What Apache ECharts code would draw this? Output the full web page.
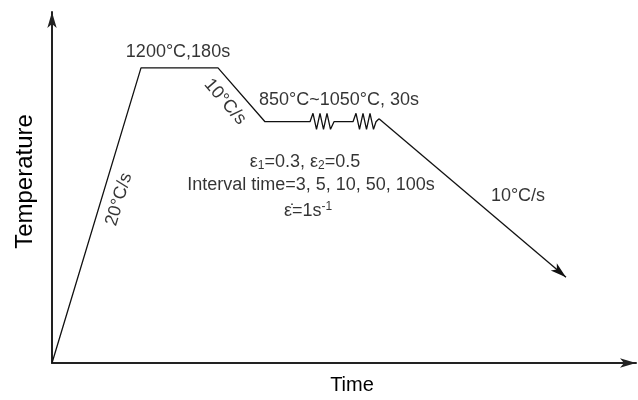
<!DOCTYPE html>
<html>
<head>
<meta charset="utf-8">
<script src="https://cdn.jsdelivr.net/npm/echarts@6/dist/echarts.min.js"></script>
<style>
  html, body { margin: 0; padding: 0; background: #fff; }
  #main { width: 638px; height: 400px; }
</style>
</head>
<body>
<div id="main"></div>
<script>
// schematic thermal path: time (arbitrary units) vs temperature
var pathTime = [0, 89, 166, 213, 258, 261, 264.5, 268, 271.5, 275, 278.5, 282, 301, 304, 307.5, 311, 314.5, 318, 321.5, 324, 327];
var pathTemp = [0, 1200, 1200, 981, 981, 1015, 950, 1015, 950, 1015, 950, 981, 981, 1015, 950, 1015, 950, 1015, 950, 981, 993];
// final cooling segment, drawn with an arrow
var coolTime = [327, 514];
var coolTemp = [993, 349];

// annotation texts and where they sit (time, temperature)
var noteText = [
  '1200°C,180s',
  '10°C/s',
  '850°C~1050°C, 30s',
  '{t|ε}{sub|1}{t|=0.3, ε}{sub|2}{t|=0.5}',
  'Interval time=3, 5, 10, 50, 100s',
  '{t|ε̇=1s}{sup|-1}',
  '10°C/s',
  '20°C/s'
];
var noteTime = [126, 173, 287, 253, 259, 256, 466, 67];
var noteTemp = [1265, 1062, 1070, 819, 722, 616, 677, 665];
var noteRotate = [0, -49, 0, 0, 0, 0, 0, 73];

var FONT = '"Liberation Sans", Arial, sans-serif';

var chart = echarts.init(document.getElementById('main'));

var pathData = pathTime.map(function (t, i) { return [t, pathTemp[i]]; });
var noteData = noteText.map(function (s, i) {
  return {
    value: [noteTime[i], noteTemp[i]],
    label: { formatter: s, rotate: noteRotate[i] }
  };
});

var option = {
  animation: false,
  backgroundColor: '#fff',
  grid: { left: 52, right: 2, top: 12, bottom: 36 },
  xAxis: {
    type: 'value',
    min: 0,
    max: 584,
    name: 'Time',
    nameLocation: 'middle',
    nameGap: 12,
    nameTextStyle: { fontSize: 20, color: '#000', fontFamily: FONT, verticalAlign: 'top', padding: [0, 0, 0, 16] },
    axisLine: {
      show: true,
      symbol: ['none', 'arrow'],
      symbolSize: [7, 16],
      lineStyle: { color: '#222', width: 2 }
    },
    axisTick: { show: false },
    axisLabel: { show: false },
    splitLine: { show: false }
  },
  yAxis: {
    type: 'value',
    min: 0,
    max: 1427,
    name: 'Temperature',
    nameLocation: 'middle',
    nameGap: 15,
    nameRotate: 90,
    nameTextStyle: { fontSize: 24, color: '#000', fontFamily: FONT, padding: [0, 0, 0, 12] },
    axisLine: {
      show: true,
      symbol: ['none', 'arrow'],
      symbolSize: [7, 16],
      lineStyle: { color: '#222', width: 2 }
    },
    axisTick: { show: false },
    axisLabel: { show: false },
    splitLine: { show: false }
  },
  series: [
    {
      type: 'line',
      data: pathData,
      symbol: 'none',
      lineStyle: { color: '#111', width: 1.3 },
      markLine: {
        silent: true,
        symbol: ['none', 'arrow'],
        symbolSize: [7, 16],
        label: { show: false },
        lineStyle: { color: '#111', width: 1.3, type: 'solid' },
        data: [[
          { coord: [coolTime[0], coolTemp[0]] },
          { coord: [coolTime[1], coolTemp[1]] }
        ]]
      }
    },
    {
      type: 'scatter',
      symbolSize: 0,
      data: noteData,
      label: {
        show: true,
        position: 'inside',
        color: '#000',
        fontSize: 18,
        fontFamily: FONT,
        rich: {
          t: { fontSize: 18, fontFamily: FONT, color: '#000' },
          sub: { fontSize: 12, fontFamily: FONT, color: '#000', padding: [9, 0, 0, 0] },
          sup: { fontSize: 12, fontFamily: FONT, color: '#000', padding: [0, 0, 9, 0] }
        }
      }
    }
  ]
};

chart.setOption(option);
</script>
</body>
</html>
